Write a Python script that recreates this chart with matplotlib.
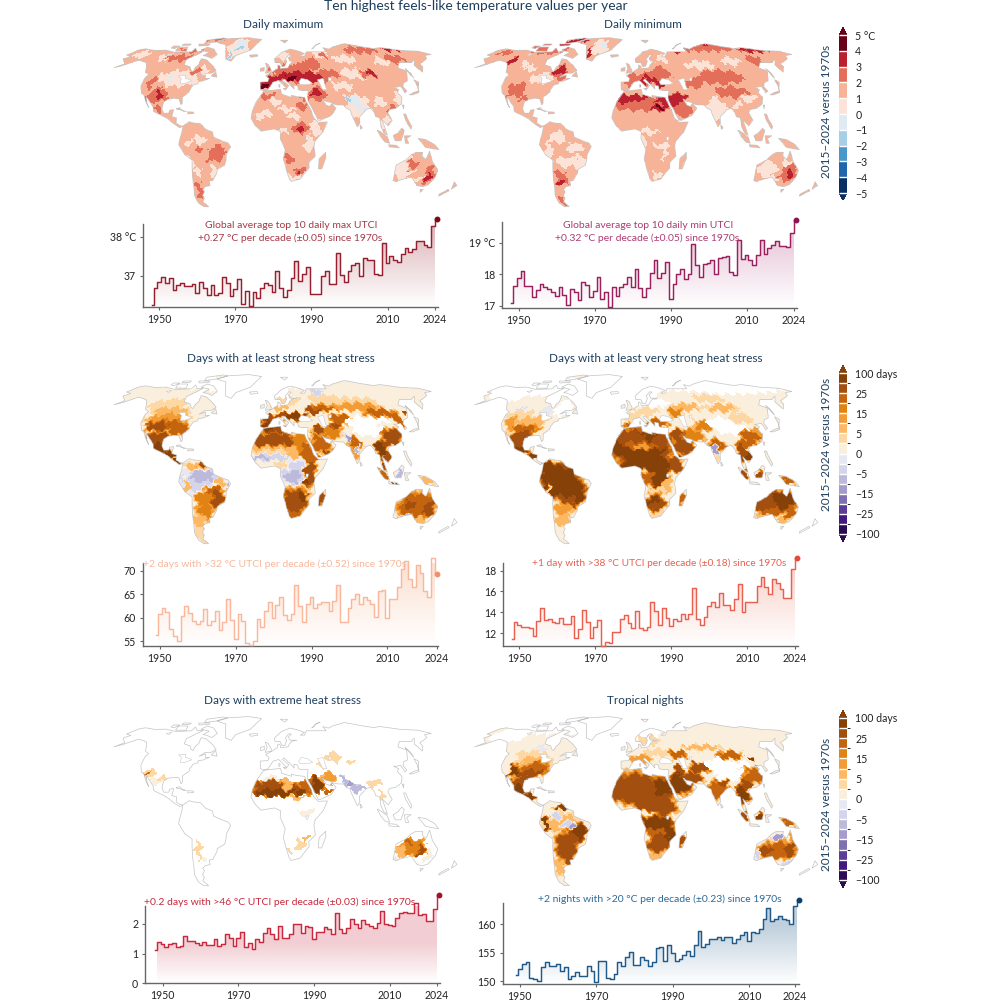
import numpy as np
import matplotlib
matplotlib.use("Agg")
import matplotlib.pyplot as plt
from matplotlib.cm import ScalarMappable
from matplotlib.colors import BoundaryNorm, ListedColormap
from matplotlib.patches import PathPatch
from matplotlib.path import Path

plt.rcParams["font.family"] = ["Lato", "DejaVu Sans"]

# yearly series
tmax_top10 = [
    36.26, 36.69, 36.84, 36.97, 36.82, 36.96, 36.64, 36.78, 36.82, 36.75,
    36.75, 36.80, 36.58, 36.86, 36.69, 36.52, 36.78, 36.52, 36.57, 36.97,
    36.82, 36.50, 36.68, 36.92, 36.28, 36.63, 36.24, 36.60, 36.44, 36.69,
    36.82, 36.77, 36.59, 37.13, 36.69, 36.46, 36.64, 36.96, 37.38, 36.87,
    37.04, 37.24, 36.54, 36.54, 36.55, 37.00, 37.12, 36.80, 36.80, 37.59,
    37.03, 36.84, 37.13, 37.29, 37.33, 37.00, 37.47, 37.41, 37.41, 37.06,
    37.03, 37.84, 37.33, 37.52, 37.41, 37.36, 37.56, 37.72, 37.60, 37.68,
    37.90, 37.88, 37.80, 37.74, 38.27, 38.45,
]
tmin_top10 = [
    17.10, 17.63, 17.87, 18.10, 17.62, 17.62, 17.28, 17.50, 17.68, 17.58,
    17.52, 17.45, 17.30, 17.60, 17.35, 17.02, 17.52, 17.43, 17.17, 17.75,
    17.65, 17.27, 17.48, 17.92, 17.20, 17.43, 16.97, 17.60, 17.30, 17.60,
    17.70, 17.92, 17.60, 18.15, 17.55, 17.28, 17.55, 18.05, 18.45, 17.88,
    18.05, 18.38, 17.20, 17.70, 18.02, 18.15, 17.85, 18.02, 18.95, 18.28,
    17.92, 18.32, 18.34, 18.44, 18.02, 18.50, 18.55, 18.58, 18.08, 17.98,
    19.10, 18.47, 18.60, 18.45, 18.30, 18.60, 19.10, 18.65, 18.82, 18.92,
    19.05, 18.90, 18.88, 18.87, 19.30, 19.72,
]
days_32 = [
    56.3, 60.7, 62.1, 61.3, 57.7, 56.1, 55.1, 60.3, 62.6, 61.1,
    59.4, 58.7, 59.3, 61.8, 58.5, 59.3, 61.4, 57.4, 59.0, 63.9,
    59.5, 55.4, 60.9, 59.4, 54.7, 54.2, 55.1, 59.8, 58.1, 61.5,
    63.4, 60.0, 62.7, 64.5, 60.6, 59.5, 60.8, 67.0, 62.4, 59.0,
    63.0, 64.5, 62.0, 62.9, 63.4, 63.4, 61.5, 63.5, 66.9, 59.2,
    59.2, 62.1, 63.9, 65.0, 62.9, 64.5, 63.8, 62.9, 60.2, 65.7,
    65.9, 59.9, 64.0, 64.0, 66.5, 70.3, 72.0, 68.2, 66.5, 71.3,
    69.6, 65.7, 64.5, 72.8, 69.3,
]
days_38 = [
    11.39, 13.03, 12.74, 12.55, 12.58, 12.51, 11.71, 13.19, 14.41, 13.28,
    13.32, 13.03, 13.00, 13.48, 12.84, 12.84, 13.64, 11.49, 12.35, 14.21,
    13.06, 11.52, 12.61, 13.28, 10.78, 11.17, 11.07, 12.13, 12.13, 13.32,
    13.70, 12.93, 12.45, 14.15, 12.51, 12.29, 12.61, 14.95, 14.12, 12.77,
    14.41, 13.44, 12.67, 13.35, 13.19, 13.80, 13.32, 13.83, 16.30, 13.32,
    12.74, 13.54, 14.63, 14.95, 14.47, 15.82, 14.70, 14.70, 14.21, 15.24,
    16.68, 14.02, 15.02, 15.02, 14.95, 16.49, 17.36, 16.40, 15.79, 17.20,
    16.78, 16.20, 15.34, 15.34, 18.16, 19.22,
]
days_46 = [
    1.12, 1.40, 1.31, 1.23, 1.31, 1.36, 1.21, 1.26, 1.60, 1.42,
    1.42, 1.36, 1.28, 1.39, 1.28, 1.28, 1.49, 1.24, 1.33, 1.64,
    1.53, 1.26, 1.53, 1.72, 1.21, 1.34, 1.15, 1.47, 1.37, 1.68,
    1.84, 1.64, 1.47, 1.93, 1.51, 1.53, 1.64, 2.00, 2.00, 1.70,
    1.93, 1.88, 1.49, 1.72, 1.72, 1.90, 1.83, 1.64, 2.35, 1.81,
    1.69, 1.87, 2.16, 1.98, 1.84, 2.11, 1.98, 1.92, 1.87, 2.03,
    2.42, 1.99, 1.96, 1.91, 2.18, 2.35, 2.40, 2.37, 2.35, 2.71,
    2.29, 2.33, 2.10, 2.09, 2.49, 2.96,
]
nights_20 = [
    151.1, 152.2, 153.0, 153.3, 150.5, 150.4, 150.1, 152.5, 153.3, 152.6,
    152.7, 153.1, 151.8, 152.5, 150.4, 151.0, 151.7, 151.0, 151.0, 152.6,
    151.8, 149.8, 153.6, 153.6, 150.5, 150.4, 151.2, 153.3, 152.6, 154.2,
    155.2, 152.9, 152.9, 154.2, 153.7, 152.7, 153.3, 155.8, 156.1, 153.5,
    156.3, 155.0, 153.6, 154.0, 154.7, 155.3, 154.5, 156.3, 158.9, 156.0,
    156.6, 157.4, 157.5, 157.8, 157.3, 157.8, 157.7, 156.7, 157.5, 158.1,
    158.7, 157.1, 158.6, 158.4, 159.2, 160.9, 162.9, 160.6, 160.9, 161.4,
    160.9, 160.8, 160.0, 163.2, 164.3,
]

temp_levels = [-5, -4, -3, -2, -1, 0, 1, 2, 3, 4, 5]
temp_labels = ["\u22125", "\u22124", "\u22123", "\u22122", "\u22121", "0", "1", "2", "3", "4", "5 \u00b0C"]
temp_colors = ["#0a2f63", "#2166ac", "#4a97c9", "#a6cfe6", "#dfeaf3",
               "#fbe3d8", "#f7b397", "#e36f5a", "#bb2030", "#6a0018"]
days_levels = [-100, -60, -25, -20, -15, -10, -5, -2.5, 0, 2.5, 5, 10, 15, 20, 25, 60, 100]
days_labels = {-100: "\u2212100", -25: "\u221225", -15: "\u221215", -5: "\u22125", 0: "0",
               5: "5", 15: "15", 25: "25", 100: "100 days"}
days_colors = ["#2b0c55", "#43197f", "#5c3d98", "#7f71b0", "#a59ccb", "#bdb9da", "#d4d5ea", "#e8e8f2",
               "#faeedd", "#fdd8a5", "#fdb863", "#f39c36", "#e08214", "#c4640f", "#a34f10", "#864108"]

# coastlines, lon/lat
land = [
    [(-168, 65.5), (-162, 70), (-156, 71.3), (-141, 69.7), (-128, 70), (-115, 68), (-108, 68), (-95, 68.5),
     (-94, 72), (-88, 68.5), (-81, 69), (-86, 66), (-94, 61.5), (-92.5, 57), (-85, 55.3), (-82, 52.5),
     (-79.5, 51.5), (-79, 55), (-77, 57.5), (-78, 62.3), (-72, 61.5), (-66, 58.7), (-61, 56), (-56, 52.5),
     (-60, 50), (-66, 50), (-71, 46.8), (-65, 48.8), (-64.5, 46), (-60, 46), (-66, 43.8), (-70, 43.5),
     (-70, 41.7), (-74, 40.6), (-76, 37), (-76, 35), (-81, 31.5), (-80, 26.5), (-81, 25.2), (-82.7, 28),
     (-84, 30), (-89, 30.2), (-94, 29.5), (-97.3, 27.5), (-97.7, 22), (-95.5, 18.6), (-91, 18.7), (-90.5, 21),
     (-87, 21.5), (-88, 16), (-83.5, 15), (-83.5, 11), (-80, 9), (-77.5, 8.5), (-80, 7.3), (-85, 10),
     (-91, 14), (-95, 16), (-105, 20), (-106, 23.5), (-112, 29.5), (-114.7, 31.5), (-112, 26), (-109.7, 23),
     (-112.5, 26), (-115, 29.5), (-117.2, 32.6), (-120.5, 34.5), (-124, 40), (-124.5, 47), (-123, 49),
     (-128, 51), (-131, 55), (-135, 58.5), (-140, 59.8), (-147, 61), (-152, 59), (-158, 56.5), (-165, 54.5),
     (-158, 58), (-162, 60), (-166, 62), (-161, 64.3)],
    [(-77.5, 8.5), (-72, 12), (-68, 11), (-62, 10.5), (-57, 6), (-51, 4), (-50, 0), (-44, -2.5), (-37, -4.8),
     (-35, -7.5), (-39, -14), (-39.5, -18), (-41, -22), (-48, -25.5), (-48.7, -28), (-53.5, -34), (-57, -34.5),
     (-57, -38), (-62, -39), (-65, -41), (-64, -43), (-67, -46), (-66, -48), (-69, -51), (-65, -55), (-70, -55),
     (-74, -52), (-75, -46), (-73, -40), (-71.5, -30), (-70, -18), (-76, -14), (-81, -6), (-80, -2), (-78.5, 2),
     (-77.5, 7)],
    [(-6, 35.8), (10, 37.3), (11, 33.5), (20, 31), (19.8, 32.7), (25, 31.7), (32, 31), (33, 28), (37, 21),
     (39, 15), (43, 11.5), (51.2, 11.8), (47, 4), (40, -3), (39, -7), (40.5, -15), (35, -20), (35.5, -24),
     (32.8, -27), (28, -33), (20, -34.8), (18, -33), (15, -26), (12, -17), (13.5, -10), (9, -1), (9.5, 4),
     (4, 6.3), (-4, 5.2), (-8, 4.5), (-13, 9), (-17, 14.7), (-16, 20), (-13, 27), (-9.5, 31.5)],
    [(-9, 37), (-9.5, 43), (-2, 43.5), (-1, 46), (-4.5, 48.3), (2, 51), (8, 54), (8.5, 57), (11, 56), (11, 54),
     (19, 54.5), (21, 57), (24, 59.3), (30, 60), (22, 60.2), (21, 63), (25, 65.5), (22, 65.7), (17.5, 62),
     (18.5, 60), (16, 56), (13, 55.5), (11, 59), (5.5, 59), (5, 62), (14, 68), (25, 71), (33, 69.5), (41, 67),
     (35, 64.5), (40, 64.5), (44, 68.5), (55, 68.5), (68, 68.5), (67, 72.5), (73, 71), (80, 73), (100, 76.5),
     (113, 74), (130, 71.5), (140, 72.5), (160, 69.8), (180, 69), (190, 66), (180, 65), (178, 62.5), (170, 60),
     (163, 58), (162, 55), (156.7, 51), (155.5, 57), (163, 62), (155, 59), (142, 59), (135, 54.5), (141, 52),
     (135, 44), (130, 42.5), (127.5, 39.5), (129, 36), (126.5, 34.5), (126, 37.5), (125, 39.7), (121, 39),
     (118, 39), (122, 37), (119.5, 35), (122, 31), (120, 26), (114, 22.5), (108, 21.5), (106, 19), (109, 13),
     (106, 10), (105, 8.7), (100, 13.5), (103, 4), (104, 1.3), (101, 3), (98.5, 8), (98, 15), (94.5, 16),
     (94, 19), (91, 22.5), (87, 21.5), (80, 15.5), (80, 11), (77.5, 8), (73, 18), (72.5, 21), (69, 22.5),
     (67, 25), (61, 25.2), (57, 26), (56, 27), (51, 28), (48, 30), (51, 25), (54, 24), (56.4, 26), (59.8, 22.5),
     (55, 17), (45, 13), (43, 13), (39, 21), (35, 28), (34.5, 31), (36, 36.3), (30, 36.3), (27, 37), (26.5, 40),
     (23, 40.5), (23, 37.5), (19.5, 41), (14, 45.5), (12.3, 44.5), (18, 40.2), (16, 38), (11, 42.5), (8.5, 44.3),
     (3, 43), (0, 39.5), (-2, 36.8), (-5.5, 36)],
    [(114, -22), (122, -18), (126, -14), (130, -12), (136, -12), (136, -15), (140, -17.5), (142, -11), (146, -19),
     (153, -26), (153, -31), (150, -37.5), (146, -39), (140, -38), (135.5, -35), (131, -31.5), (124, -33),
     (118, -35), (115, -34), (114, -26)],
    [(-73, 78), (-60, 82), (-32, 83.5), (-12, 81), (-20, 74), (-24, 70), (-40, 65), (-43, 60), (-50, 62),
     (-54, 69), (-58, 75)],
    [(-80, 73), (-70, 71), (-62, 66), (-66, 62.5), (-74, 64.5), (-78, 65), (-73, 68), (-85, 70)],
    [(-117, 73), (-105, 73), (-102, 69), (-115, 69)],
    [(-125, 74), (-117, 74), (-120, 71.5), (-125, 72)],
    [(-90, 80), (-70, 83), (-62, 82), (-75, 78), (-88, 76.5)],
    [(-95, 76), (-80, 76), (-80, 74.5), (-92, 74)],
    [(-115, 76), (-105, 76), (-105, 74.5), (-115, 74.5)],
    [(-59, 47.8), (-56, 51.5), (-53, 47)],
    [(-24, 65.5), (-15, 66), (-14, 64.5), (-22, 63.5)],
    [(-85, 22), (-75, 20), (-78, 20), (-82, 23)],
    [(-74, 19.8), (-69, 19.5), (-68.5, 18.5), (-74, 18)],
    [(-5, 58.5), (-2, 57.5), (1.5, 52.5), (1, 51), (-5, 50), (-3, 54)],
    [(-10, 54), (-6, 55), (-6, 52), (-10, 51.7)],
    [(15, 80), (25, 80), (20, 77)],
    [(52, 71), (58, 74), (68, 77), (60, 75), (55, 72)],
    [(142, 54), (143.5, 50), (143, 46), (142, 50)],
    [(130, 33), (135, 35), (140, 36), (141.5, 40), (142, 45), (145, 43), (141, 38), (140, 35), (133, 33)],
    [(120.3, 25), (121.8, 25), (120.8, 22)],
    [(120, 18), (122, 18), (123, 14), (126, 8), (125, 6), (121, 13)],
    [(95, 5.5), (98, 4), (104, 0), (106, -5), (102, -4), (98, 0)],
    [(105, -6), (112, -6.5), (115, -8.5), (106, -7.8)],
    [(109, 1), (113, 3), (117, 7), (119, 5), (116, -3), (111, -3)],
    [(119, 1), (125, 1), (121, -1), (123, -5), (120, -5)],
    [(131, -1), (138, -2), (146, -6), (150, -10), (143, -9), (138, -8), (133, -3)],
    [(49.5, -12), (50, -16), (47, -25), (44, -25), (44, -17)],
    [(80, 9.5), (82, 7), (80.3, 6)],
    [(173, -35), (178, -38), (175, -41), (174, -38)],
    [(172, -41), (174, -42), (168, -46.5), (167, -45)],
    [(145, -41), (148, -41), (147, -43.5)],
    [(12.5, 38), (15.5, 38), (15, 36.7)],
    [(8.5, 41), (9.7, 41), (9.5, 39), (8.5, 39)],
]
lakes = [
    [(28, 43), (31, 46), (37, 45), (41.5, 42), (36, 41), (29, 41)],
    [(47, 45), (53, 46), (53, 40), (54, 37), (50, 37), (49, 40)],
    [(58, 46), (61, 46.5), (60, 44), (58, 44)],
    [(-92, 48), (-85, 48.5), (-84, 46), (-79, 45), (-77, 44), (-83, 42), (-87, 42), (-88, 46)],
    [(-122, 66), (-117, 67), (-118, 65)],
    [(31.8, 0), (34, 0), (33.5, -2.5), (32, -2.5)],
]

# map shading: (level, lon, lat, half width, half height), later rows paint over earlier ones
# level -100 means left blank
tmax_blobs = [
    (0.5, -150, 66, 8, 3), (0.5, -118, 63, 8, 3), (0.5, -92, 46, 14, 6), (0.5, -78, 45, 7, 4), (0.5, -70, 53, 6, 3),
    (0.5, -105, 47, 6, 3), (-0.5, -97, 46, 2, 2), (2.5, -103, 63, 14, 2.5), (2.5, -95, 70, 14, 2), (2.5, -76, 52, 3, 3),
    (2.5, -104, 33, 9, 5), (3.5, -103, 33, 3, 3), (2.5, -110, 30, 4, 4), (2.5, -115, 42, 3, 4), (2.5, -103, 22, 4, 2),
    (2.5, -80, 81, 15, 1.5), (0.5, -40, 72, 12, 9), (-0.5, -38, 75, 7, 5), (-1.5, -38, 72, 3, 2), (-1.5, -47, 65, 1.5, 4),
    (0.5, -62, -2, 6, 3), (0.5, -72, -5, 3, 3), (0.5, -50, -27, 4, 4), (0.5, -44, -8, 3, 3), (2.5, -63, -10, 4, 3),
    (2.5, -47, -12, 6, 6), (2.5, -53, -16, 4, 3), (2.5, -68, -42, 3, 7), (0.5, -72, -20, 3, 5), (0.5, -65, -27, 3, 3),
    (0.5, 4, 28, 6, 2.5), (0.5, 15, 22, 7, 2), (0.5, -5, 18, 6, 2), (0.5, 22, 16, 7, 2), (0.5, -8, 14, 4, 2),
    (0.5, 10, 5, 5, 2), (0.5, 35, -5, 4, 6), (0.5, 20, -32, 8, 2), (0.5, 40, 7, 5, 5), (2.5, -3, 32, 9, 2),
    (2.5, 30, 24, 5, 3), (2.5, 33, 31, 6, 2), (2.5, 27, 7, 6, 4), (3.5, 27, 6, 2.5, 2), (2.5, 18, -17, 5, 3),
    (2.5, 28, -27, 4, 3), (3.5, 28, -28, 1.5, 1.5), (0.5, 15, 66, 8, 4), (2.5, 20, 54, 20, 4), (2.5, 45, 58, 10, 4),
    (3.5, -3, 43, 10, 4), (3.5, 12, 47, 9, 3), (3.5, 25, 47, 9, 4), (3.5, 42, 47, 13, 4), (4.5, -6, 39, 3, 2),
    (4.5, 22, 46, 5, 2), (2.5, 45, 34, 7, 5), (3.5, 42, 35, 4, 3), (0.5, 60, 66, 8, 4), (0.5, 85, 62, 12, 3),
    (0.5, 90, 50, 18, 4), (0.5, 125, 60, 8, 3), (0.5, 70, 40, 10, 3), (2.5, 100, 50, 9, 3), (3.5, 103, 50, 5, 1.5),
    (2.5, 60, 50, 10, 3), (2.5, 110, 70, 18, 3), (3.5, 150, 71, 8, 1.5), (2.5, 62, 65, 5, 2), (2.5, 140, 62, 10, 3),
    (0.5, 80, 24, 10, 8), (-0.5, 78, 27, 6, 4), (-1.5, 73, 30, 2.5, 3), (-0.5, 85, 20, 3, 3), (0.5, 100, 28, 5, 4),
    (0.5, 120, 30, 5, 4), (2.5, 110, 22, 3, 3), (0.5, 102, 10, 4, 6), (0.5, 122, -24, 10, 8), (2.5, 130, -22, 5, 4),
    (2.5, 147, -30, 5, 6), (3.5, 146, -31, 2.5, 2.5), (0.5, 138, -34, 6, 2), (-0.5, 128, -34, 5, 1),
]
tmin_blobs = [
    (2.5, -100, 72, 22, 5), (3.5, -85, 76, 10, 3), (3.5, -70, 80, 10, 2), (3.5, -132, 60, 3, 5), (2.5, -150, 68, 8, 2),
    (3.5, -73, 52, 5, 5), (2.5, -68, 47, 4, 3), (0.5, -88, 46, 10, 4), (0.5, -105, 54, 8, 2), (0.5, -115, 58, 5, 2),
    (-0.5, -87, 46, 3, 2), (2.5, -108, 37, 8, 5), (2.5, -100, 30, 3, 2), (0.5, -40, 73, 10, 7), (-0.5, -35, 75, 4, 3),
    (3.5, -50, 68, 2, 5), (0.5, -65, 0, 8, 4), (0.5, -50, -8, 6, 4), (0.5, -58, -20, 8, 4), (0.5, -45, -20, 5, 6),
    (0.5, -73, -12, 3, 8), (2.5, -64, -32, 5, 5), (3.5, -66, -36, 2, 2), (2.5, -70, -50, 3, 3), (2.5, -15, 26, 3, 3),
    (2.5, 10, 26, 27, 5), (3.5, -5, 30, 9, 3), (3.5, 10, 31, 6, 2), (3.5, 30, 28, 6, 2), (3.5, 25, 23, 8, 2),
    (4.5, 27, 23, 3, 1.5), (3.5, 37, 28, 6, 5), (3.5, 45, 30, 6, 4), (2.5, 47, 22, 7, 6), (0.5, 15, 4, 12, 2),
    (0.5, 28, -7, 7, 2), (0.5, 12, -3, 3, 3), (0.5, 25, -30, 5, 3), (0.5, 30, -12, 2, 5), (2.5, 5, 44, 13, 5),
    (3.5, 22, 46, 8, 4), (3.5, 12, 43, 3, 2), (2.5, 30, 50, 10, 5), (0.5, 35, 62, 7, 3), (3.5, 28, 41, 5, 2),
    (2.5, 60, 42, 10, 3), (2.5, 90, 47, 22, 5), (2.5, 95, 35, 14, 4), (0.5, 75, 57, 15, 3), (0.5, 110, 60, 10, 3),
    (2.5, 90, 72, 40, 3), (3.5, 100, 76, 8, 1), (3.5, 55, 70, 8, 2), (3.5, 150, 70, 15, 2), (2.5, 138, 60, 8, 4),
    (0.5, 78, 22, 9, 8), (0.5, 110, 30, 6, 3), (0.5, 97, 25, 3, 3), (0.5, 125, -25, 8, 6), (0.5, 135, -33, 8, 2),
    (2.5, 145, -28, 7, 6), (3.5, 146, -29, 3, 2.5), (0.5, 140, -20, 4, 2),
]
strong_blobs = [
    (-100, -40, 72, 28, 14), (-100, -90, 74, 45, 7), (-100, 20, 76, 18, 7), (-100, 10, 65, 10, 6), (-100, -20, 65, 8, 3),
    (1, -105, 62, 40, 6), (3.5, -100, 54, 25, 5), (1, -80, 53, 8, 4), (7, -100, 49, 18, 3), (12, -100, 43, 18, 4),
    (22, -98, 38, 17, 4), (40, -108, 37, 10, 3), (22, -85, 35, 8, 5), (40, -103, 28, 10, 5), (80, -100, 20, 8, 4),
    (80, -90, 15, 6, 3), (80, -82, 10, 4, 2), (-3.5, -60, -5, 19, 9), (-7, -60, -2, 10, 4), (7, -65, 6, 9, 3),
    (40, -62, 7, 3, 1.5), (7, -45, -6, 6, 3), (-5, -37, -8, 2, 2), (22, -50, -14, 9, 4), (40, -48, -20, 7, 6),
    (17, -60, -20, 8, 5), (17, -60, -30, 7, 6), (7, -67, -38, 6, 7), (3.5, -70, -48, 5, 6), (7, -74, -10, 2, 8),
    (40, 3, 26, 24, 6), (60, -5, 26, 10, 3), (60, 5, 35, 14, 3), (7, 5, 19, 23, 3), (3.5, 3, 17, 22, 2),
    (-3.5, 0, 13, 22, 2.5), (-7, -8, 13, 8, 1.5), (17, 28, 25, 6, 7), (22, 33, 18, 5, 7), (22, 38, 11, 5, 4),
    (7, 20, 15, 6, 3), (-3.5, 22, 2, 12, 8), (-5, 20, -3, 6, 5), (3.5, 10, 7, 7, 3), (40, 35, 0, 5, 10),
    (80, 32, -8, 2, 3), (3.5, 26, -11, 8, 3), (40, 22, -22, 12, 10), (80, 30, -18, 3, 4), (22, 20, -32, 8, 3),
    (40, 46, -20, 4, 6), (3.5, 20, 58, 12, 3), (7, 10, 52, 9, 2), (40, -2, 43, 8, 3), (80, 0, 38, 8, 3),
    (60, 12, 46, 8, 2), (80, 25, 45, 11, 3), (60, 45, 50, 9, 3), (22, 58, 53, 14, 3), (3.5, 80, 60, 35, 6),
    (1, 100, 66, 35, 5), (-3.5, 55, 66, 8, 3), (12, 90, 53, 22, 3), (40, 45, 35, 6, 3), (22, 46, 24, 8, 7),
    (17, 58, 33, 9, 5), (40, 52, 17, 3, 2), (22, 68, 43, 10, 4), (40, 62, 38, 5, 2), (-100, 87, 41, 12, 4),
    (-100, 92, 34, 15, 4), (22, 110, 48, 15, 3), (-100, 107, 42, 8, 2), (60, 113, 32, 8, 4), (40, 112, 26, 9, 4),
    (22, 125, 42, 5, 5), (60, 135, 48, 3, 2), (22, 77, 24, 6, 5), (12, 77, 16, 4, 5), (-5, 79, 20, 2, 4),
    (-12, 72, 28, 3, 3), (80, 100, 20, 6, 5), (40, 105, 12, 4, 5), (40, 100, 5, 3, 3), (22, 102, -2, 4, 4),
    (-7, 115, 1, 3, 3), (40, 110, -7, 5, 1), (7, 140, -5, 7, 3), (22, 134, -25, 17, 11), (40, 128, -24, 5, 3),
    (40, 145, -28, 5, 5), (-7, 125, -33, 8, 1.5), (7, 143, -36, 5, 3), (-100, 172, -42, 7, 6),
]
very_strong_blobs = [
    (-100, -40, 72, 28, 14), (-100, -110, 70, 60, 9), (-100, -140, 62, 18, 6), (-100, 15, 68, 20, 10),
    (-100, 100, 72, 90, 8), (-100, 172, -42, 7, 6), (-100, 25, 56, 14, 3), (-100, -72, 52, 12, 6),
    (1, -100, 56, 22, 6), (-1, -85, 50, 8, 3), (-3.5, -112, 50, 4, 2), (3.5, -110, 47, 12, 3), (7, -95, 41, 13, 4),
    (12, -115, 40, 6, 4), (22, -100, 35, 13, 3), (40, -100, 30, 9, 4), (60, -103, 24, 8, 5), (80, -100, 18, 7, 3),
    (80, -88, 14, 5, 3), (80, -62, -6, 18, 13), (80, -50, -15, 10, 8), (80, -72, 3, 9, 6), (40, -56, -22, 7, 4),
    (12, -62, -28, 8, 5), (7, -65, -37, 6, 5), (1, -70, -48, 4, 5), (3, -73, -16, 1.5, 8), (80, 8, 22, 28, 13),
    (40, 0, 28, 14, 5), (22, 10, 22, 15, 3), (12, 10, 21, 7, 2), (40, 28, 26, 7, 5), (80, 8, 8, 17, 5),
    (80, 26, 6, 11, 8), (80, 25, -6, 8, 8), (22, 15, -4, 5, 5), (40, 40, 8, 6, 6), (3.5, 25, -13, 8, 3),
    (7, 33, -9, 4, 5), (40, 22, -23, 9, 7), (80, 20, -20, 4, 3), (3, 25, -32, 7, 3), (22, 45, -20, 4, 6),
    (1, 60, 62, 30, 4), (3.5, 85, 60, 15, 3), (7, 58, 53, 14, 3), (3.5, 15, 49, 12, 3), (17, 45, 48, 8, 3),
    (7, 95, 52, 15, 3), (3, 0, 44, 8, 3), (22, 0, 38, 7, 2), (22, 26, 40, 10, 3), (40, 45, 30, 8, 5),
    (40, 48, 22, 8, 7), (17, 58, 30, 9, 5), (17, 68, 38, 7, 4), (-100, 87, 40, 12, 4), (-100, 95, 35, 14, 4),
    (3, 108, 44, 10, 4), (22, 112, 30, 9, 5), (12, 118, 33, 5, 3), (22, 106, 24, 8, 3), (22, 78, 22, 7, 5),
    (-12, 77, 19, 3, 4), (3.5, 76, 12, 3, 3), (60, 100, 16, 5, 7), (80, 105, 12, 3, 3), (60, 114, 0, 3, 3),
    (40, 102, 0, 3, 4), (22, 140, -5, 7, 3), (80, 134, -22, 17, 9), (40, 122, -24, 9, 7), (22, 130, -30, 8, 3),
    (7, 122, -33, 8, 2), (22, 148, -30, 4, 5), (7, 145, -36, 6, 2),
]
extreme_blobs = [
    (3.5, -113, 33, 5, 5), (22, -115, 34, 1.5, 2), (1, -103, 27, 5, 4), (3.5, -100, 30, 2, 3), (60, 5, 22, 24, 7),
    (80, 5, 18, 18, 3), (7, 15, 27, 8, 2), (1, 0, 30, 8, 2), (7, 15, 23, 5, 3), (22, 33, 23, 5, 8),
    (80, 27, 19, 4, 3), (7, 25, 14, 6, 2), (80, 43, 24, 6, 8), (22, 52, 20, 3, 2), (12, 54, 30, 7, 5),
    (-7, 68, 28, 3, 4), (-12, 72, 25, 2, 3), (-7, 78, 22, 5, 4), (-5, 84, 22, 2, 2), (3.5, 62, 46, 8, 4),
    (3.5, 78, 43, 4, 1.5), (3, 50, 40, 4, 2), (3, 95, 26, 6, 3), (3.5, 100, 17, 2, 4), (1, 33, 2, 7, 3),
    (3.5, 28, -22, 5, 4), (7, 33, -18, 2, 3), (3.5, 17, -27, 2, 3), (3.5, -65, -27, 2.5, 8), (1, -63, -35, 2, 3),
    (17, 130, -25, 14, 7), (40, 139, -27, 4, 4), (7, 120, -28, 6, 4), (22, 125, -20, 4, 2), (1, 146, -31, 3, 4),
    (-1, 120, -34, 8, 1),
]
nights_blobs = [
    (-100, -40, 72, 28, 14), (-100, -100, 74, 50, 8), (-100, -140, 63, 20, 6), (-100, 15, 68, 20, 9), (-100, 172, -42, 7, 6),
    (1, -105, 56, 25, 6), (-1, -95, 52, 9, 3), (3.5, -100, 48, 16, 3), (7, -95, 43, 15, 3), (22, -90, 38, 13, 4),
    (40, -95, 33, 13, 3), (80, -110, 36, 4, 5), (40, -100, 26, 8, 5), (80, -102, 20, 7, 4), (80, -90, 15, 6, 3),
    (7, -62, -5, 16, 7), (-3.5, -67, 0, 5, 3), (-3.5, -55, -7, 6, 3), (80, -62, 7, 5, 2), (-12, -52, -7, 2, 3),
    (40, -50, -15, 8, 5), (80, -45, -12, 5, 6), (60, -58, -22, 10, 8), (80, -75, -6, 2, 6), (40, -60, -32, 8, 6),
    (7, -68, -40, 5, 7), (60, 5, 22, 25, 12), (40, 5, 15, 22, 4), (80, 30, 22, 8, 7), (60, 30, 8, 10, 8),
    (40, 15, 8, 12, 4), (80, 22, -6, 14, 6), (80, 34, -15, 7, 9), (22, 22, -13, 7, 3), (60, 25, -22, 10, 7),
    (7, 22, -32, 8, 3), (40, 45, -20, 4, 6), (3.5, 20, 60, 10, 4), (1, 80, 62, 40, 7), (3.5, 30, 50, 14, 3),
    (22, 48, 48, 9, 3), (7, 75, 54, 20, 2), (12, 10, 45, 10, 3), (40, 45, 36, 5, 4), (80, 45, 25, 9, 8),
    (40, 58, 30, 8, 4), (40, 65, 38, 8, 4), (-100, 85, 40, 12, 5), (-100, 92, 33, 14, 4), (-100, 107, 40, 9, 2),
    (22, 100, 48, 12, 3), (80, 120, 45, 3, 2), (22, 115, 32, 9, 6), (60, 105, 25, 5, 4), (22, 78, 20, 8, 7),
    (40, 85, 25, 5, 3), (80, 100, 16, 6, 7), (80, 114, 0, 3, 3), (40, 102, 0, 3, 4), (22, 140, -5, 7, 3),
    (-12, 132, -16, 4, 3), (12, 145, -17, 3, 4), (22, 135, -27, 18, 7), (60, 145, -27, 5, 4), (60, 123, -27, 6, 3),
    (-3.5, 116, -30, 3, 4), (-3.5, 148, -37, 4, 2),
]

fig = plt.figure(figsize=(10, 10), dpi=100)
NAVY = "#1d3e5e"

# Robinson table
rob_lat = np.arange(0, 95, 5)
rob_x = [1, .9986, .9954, .99, .9822, .973, .96, .9427, .9216, .8962, .8679, .835, .7986, .7597, .7186, .6732,
         .6213, .5722, .5322]
rob_y = [0, .062, .124, .186, .248, .31, .372, .434, .4958, .5571, .6176, .6769, .7346, .7903, .8435, .8936,
         .9394, .9761, 1]


def project(lon, lat):
    lon, lat = np.asarray(lon, float), np.asarray(lat, float)
    x = 1.13 * lon * np.interp(np.abs(lat), rob_lat, rob_x)
    y = 103 * np.sign(lat) * np.interp(np.abs(lat), rob_lat, rob_y)
    return x, y


def polygons_path(polys):
    verts, codes = [], []
    for poly in polys:
        pts = np.array(poly + [poly[0]], float)
        # add points along each edge so long coasts follow the projection
        t = np.linspace(0, len(pts) - 1, (len(pts) - 1) * 4 + 1)
        lon = np.interp(t, np.arange(len(pts)), pts[:, 0])
        lat = np.interp(t, np.arange(len(pts)), pts[:, 1])
        xy = np.column_stack(project(lon, lat))
        verts.extend(xy)
        codes.extend([Path.MOVETO] + [Path.LINETO] * (len(xy) - 1))
    return Path(np.array(verts), codes)


land_path = polygons_path(land)
lake_path = polygons_path(lakes)

grid_lon, grid_lat = np.meshgrid(np.arange(-180, 192, 0.5), np.arange(-58, 85, 0.5))
grid_x, grid_y = project(grid_lon, grid_lat)
# bends the blob edges a little so they don't come out as clean ellipses
warp_lon = grid_lon + 1.8 * np.sin(grid_lat * 0.6 + grid_lon * 0.2) + 0.9 * np.sin(grid_lat * 1.3 - grid_lon * 0.7)
warp_lat = grid_lat + 1.3 * np.sin(grid_lon * 0.5 - grid_lat * 0.3) + 0.7 * np.sin(grid_lon * 1.1 + grid_lat * 0.9)


def shade_grid(blobs, levels, background, spread, start_covered):
    field = np.full(grid_lon.shape, float(np.searchsorted(levels, background) - 1))
    covered = np.full(grid_lon.shape, 1.0 if start_covered else 0.0)
    for level, lon, lat, rx, ry in blobs:
        d = np.hypot((warp_lon - lon) / (rx * spread), (warp_lat - lat) / (ry * spread))
        alpha = np.clip((1.25 - d) / 0.5, 0, 1)
        if level == -100:
            covered *= 1 - alpha
            continue
        index = np.searchsorted(levels, level) - 1
        field = field * (1 - alpha) + index * alpha
        covered = 1 - (1 - covered) * (1 - alpha)
    return np.ma.masked_where(covered < 0.5, np.floor(field + 0.5))


def draw_map(cx, cy, blobs, levels, colors, background, spread=1.0, start_covered=False):
    ax = fig.add_axes([(cx - 165) / 1000, 1 - (cy + 85) / 1000, 365 / 1000, 195 / 1000])
    ax.set_xlim(-165, 200)
    ax.set_ylim(-85, 110)
    ax.axis("off")
    clip = PathPatch(land_path, facecolor="white", edgecolor="none", zorder=1)
    ax.add_patch(clip)
    cells = shade_grid(blobs, levels, background, spread, start_covered)
    mesh = ax.pcolormesh(grid_x, grid_y, cells, cmap=ListedColormap(colors), vmin=-0.5, vmax=len(colors) - 0.5,
                         shading="nearest", zorder=2, rasterized=True)
    mesh.set_clip_path(clip)
    ax.add_patch(PathPatch(lake_path, facecolor="white", edgecolor="#c9c9c9", linewidth=0.4, zorder=3))
    ax.add_patch(PathPatch(land_path, facecolor="none", edgecolor="#c4c4c4", linewidth=0.5, zorder=4))
    return ax


def draw_colorbar(top, bottom, levels, colors, labels, label_y):
    norm = BoundaryNorm(levels, len(colors))
    cmap = ListedColormap(colors)
    cmap.set_over(colors[-1])
    cmap.set_under(colors[0])
    # the extend triangles sit inside the axes, so widen it by their size
    frac = 0.045
    grow = (bottom - top) * frac
    cax = fig.add_axes([839 / 1000, 1 - (bottom + grow) / 1000, 8 / 1000, (bottom - top + 2 * grow) / 1000])
    cb = fig.colorbar(ScalarMappable(norm=norm, cmap=cmap), cax=cax, extend="both", extendfrac=frac,
                      spacing="uniform", drawedges=True, ticks=list(labels))
    cb.dividers.set_color("white")
    cb.dividers.set_linewidth(1.0)
    cb.outline.set_visible(False)
    cax.set_yticklabels(list(labels.values()), fontsize=7.6, color="#222222")
    cax.tick_params(length=0, pad=6)
    fig.text(827 / 1000, 1 - label_y / 1000, "2015\u20132024 versus 1970s", rotation=90, ha="center", va="center",
             fontsize=8.5, color=NAVY)


def draw_series(values, first_year, spec):
    left, right, top, bottom = spec["box"]
    values = np.array(values)
    years = first_year + np.arange(len(values))
    ax = fig.add_axes([left / 1000, 1 - bottom / 1000, (right - left) / 1000, (bottom - top) / 1000])
    # axis limits worked out from where the first/last steps and two y ticks sit
    per_px = (years[-1] - years[0]) / (spec["x_px"][1] - spec["x_px"][0])
    x_at = lambda px: years[0] + (px - spec["x_px"][0]) * per_px
    (v0, p0), (v1, p1) = spec["y_px"]
    y_at = lambda px: v0 + (px - p0) * (v1 - v0) / (p1 - p0)
    ymin = y_at(bottom)

    fx = np.r_[years[0] + 0.5, years[1:-1], years[-2] + 0.5]
    fv = np.r_[values[1], values[1:-1], values[-2]]
    shape = ax.fill_between(fx, fv, ymin, step="mid", facecolor="none", edgecolor="none")
    rgb = matplotlib.colors.to_rgb(spec["fill"])
    alpha = np.interp(np.linspace(1, 0, 128), [0, spec["fade"], 1], [0.0, spec["alpha"], spec["alpha"]])
    grad = np.zeros((128, 1, 4))
    grad[:, :, :3] = rgb
    grad[:, 0, 3] = alpha
    image = ax.imshow(grad, extent=[years[0], years[-1], ymin, values.max()], aspect="auto", zorder=1,
                      interpolation="bilinear")
    image.set_clip_path(shape.get_paths()[0], ax.transData)
    ax.set_xlim(x_at(left), x_at(right))
    ax.set_ylim(ymin, y_at(top))

    ax.step(years, values, where="mid", color=spec["line"], linewidth=1.05, zorder=3, clip_on=False)
    ax.plot(years[-1], values[-1], "o", color=spec["dot"], markersize=3.2, zorder=4, clip_on=False)

    for side in ("top", "right"):
        ax.spines[side].set_visible(False)
    for side in ("left", "bottom"):
        ax.spines[side].set_color("#666666")
        ax.spines[side].set_linewidth(1.0)
    ax.patch.set_alpha(0)
    ax.set_xticks([1950, 1970, 1990, 2010, x_at(spec["last_tick"])], ["1950", "1970", "1990", "2010", "2024"])
    ax.set_yticks(spec["yticks"], spec["ylabels"])
    ax.tick_params(axis="both", length=2.5, width=0.8, color="#666666", labelsize=7.6, labelcolor="#222222", pad=2.5)

    for text, tx, ty in spec["notes"]:
        fig.text(tx / 1000, 1 - ty / 1000, text, ha="center", va="center", fontsize=spec.get("note_size", 7.45),
                 color=spec["text"], zorder=10)


fig.text(476 / 1000, 1 - 6 / 1000, "Ten highest feels-like temperature values per year", ha="center", va="center",
         fontsize=9.9, color=NAVY)
titles = [
    ("Daily maximum", 283, 24), ("Daily minimum", 643, 24),
    ("Days with at least strong heat stress", 281, 358), ("Days with at least very strong heat stress", 656, 358),
    ("Days with extreme heat stress", 282, 701), ("Tropical nights", 645, 701),
]
for text, tx, ty in titles:
    fig.text(tx / 1000, 1 - ty / 1000, text, ha="center", va="center", fontsize=8.5, color=NAVY)

draw_colorbar(35, 193, temp_levels, temp_colors, dict(zip(temp_levels, temp_labels)), 111)
draw_colorbar(373, 534, days_levels, days_colors, days_labels, 444)
draw_colorbar(718, 880, days_levels, days_colors, days_labels, 804)

draw_map(270, 137, tmax_blobs, temp_levels, temp_colors, 1.5, 1.1, True)
draw_map(630.7, 137, tmin_blobs, temp_levels, temp_colors, 1.5, 1.1, True)
draw_map(270, 474, strong_blobs, days_levels, days_colors, 1, 1.1, True)
draw_map(630.7, 474, very_strong_blobs, days_levels, days_colors, 1, 1.1, True)
draw_map(270, 816, extreme_blobs, days_levels, days_colors, 1, 1.0)
draw_map(630.7, 816, nights_blobs, days_levels, days_colors, 1, 1.1, True)

draw_series(tmax_top10, 1948, dict(
    box=(143, 438, 224, 307), x_px=(151.7, 437), y_px=((38, 236.7), (37, 276)), last_tick=435,
    yticks=[37, 38], ylabels=["37", "38 \u00b0C"], line="#96202f", dot="#7b0a13", fill="#b5606a", alpha=0.45, fade=0.9,
    text="#a63a48", notes=[("Global average top 10 daily max UTCI", 291, 226),
                           ("+0.27 \u00b0C per decade (\u00b10.05) since 1970s", 290, 238)]))
draw_series(tmin_top10, 1948, dict(
    box=(502, 797, 222, 308), x_px=(511, 796), y_px=((19, 242.7), (17, 305.7)), last_tick=794,
    yticks=[17, 18, 19], ylabels=["17", "18", "19 \u00b0C"], line="#9c1f5e", dot="#8c1250", fill="#c06a9a", alpha=0.4,
    fade=0.9, text="#ad3c74", notes=[("Global average top 10 daily min UTCI", 648, 226),
                                      ("+0.32 \u00b0C per decade (\u00b10.05) since 1970s", 647, 238)]))
draw_series(days_32, 1949, dict(
    box=(143, 438, 563, 646), x_px=(156, 436.7), y_px=((70, 570.7), (55, 641.3)), last_tick=436.7,
    yticks=[55, 60, 65, 70], ylabels=["55", "60", "65", "70"], line="#f9b79b", dot="#f58f70", fill="#f9c4a8", alpha=0.45,
    fade=0.8, text="#f9b79b", notes=[("+2 days with >32 \u00b0C UTCI per decade (\u00b10.52) since 1970s", 275, 564)]))
draw_series(days_38, 1948, dict(
    box=(503, 798, 563, 646), x_px=(511.7, 796.7), y_px=((18, 570.7), (12, 633)), last_tick=795,
    yticks=[12, 14, 16, 18], ylabels=["12", "14", "16", "18"], line="#e8604f", dot="#e24a3c", fill="#f09a88", alpha=0.4,
    fade=0.8, text="#e8604f", note_size=7.25,
    notes=[("+1 day with >38 \u00b0C UTCI per decade (\u00b10.18) since 1970s", 659.5, 563)]))
draw_series(days_46, 1948, dict(
    box=(145, 440, 906, 983.3), x_px=(155, 439), y_px=((2, 923.7), (0, 983.3)), last_tick=437,
    yticks=[0, 1, 2], ylabels=["0", "1", "2"], line="#c9283e", dot="#a4122a", fill="#e08a96", alpha=0.42,
    fade=0.45, text="#c9283e", notes=[("+0.2 days with >46 \u00b0C UTCI per decade (\u00b10.03) since 1970s", 280, 902)]))
draw_series(nights_20, 1949, dict(
    box=(503, 799, 903, 984), x_px=(516, 799), y_px=((160, 924.3), (150, 981.3)), last_tick=795,
    yticks=[150, 155, 160], ylabels=["150", "155", "160"], line="#1f5a8a", dot="#0f3f6b", fill="#7fa0bb", alpha=0.5,
    fade=0.7, text="#2c6a98", notes=[("+2 nights with >20 \u00b0C per decade (\u00b10.23) since 1970s", 660, 899)]))

fig.savefig("out.png", dpi=100)
